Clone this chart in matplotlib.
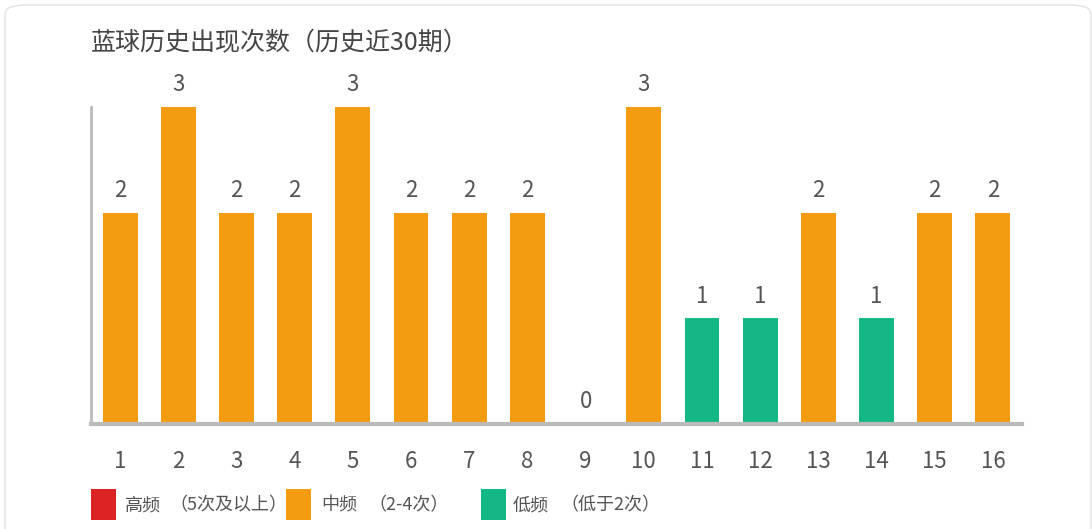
import matplotlib
matplotlib.use("Agg")
import matplotlib.pyplot as plt
from matplotlib.patches import FancyBboxPatch, Rectangle

plt.rcParams['font.family'] = ['Noto Sans CJK SC', 'DejaVu Sans']

# data
balls = [str(i) for i in range(1, 17)]
counts = [2, 3, 2, 2, 3, 2, 2, 2, 0, 3, 1, 1, 2, 1, 2, 2]
title = "蓝球历史出现次数（历史近30期）"
legend_names = ["高频", "中频", "低频"]
legend_notes = ["（5次及以上）", "（2-4次）", "（低于2次）"]

RED = "#DD2424"
ORANGE = "#F39C12"
GREEN = "#14B886"
legend_colors = [RED, ORANGE, GREEN]
TXT = "#555555"

def bar_color(v):
    if v >= 5:
        return RED
    elif v >= 2:
        return ORANGE
    return GREEN

W, H = 1092, 529
fig = plt.figure(figsize=(W / 100, H / 100), dpi=100)

# card border
fig.add_artist(FancyBboxPatch((5 / W, -0.05), 1086 / W, 1.05 - 5 / H,
                              boxstyle="round,pad=0,rounding_size=0.018",
                              transform=fig.transFigure, fc="white",
                              ec="#e6e6e6", lw=1.2, zorder=0))

ax = fig.add_axes([91 / W, 1 - 424 / H, 931 / W, 317 / H])
xs = list(range(1, len(balls) + 1))
ax.bar(xs, counts, width=0.6, color=[bar_color(v) for v in counts], zorder=2)
for x, v in zip(xs, counts):
    ax.text(x, v + 0.1, str(v), ha="center", va="bottom", fontsize=16, color=TXT)

ax.set_xlim(0.5, 16.5)
ax.set_ylim(0, 3)
ax.set_xticks(xs)
ax.set_xticklabels(balls, fontsize=16, color=TXT)
ax.set_yticks([])
ax.tick_params(axis="x", length=0, pad=19)
ax.spines["top"].set_visible(False)
ax.spines["right"].set_visible(False)
ax.spines["left"].set_color("#bbbbbb")
ax.spines["left"].set_linewidth(2)
ax.spines["bottom"].set_color("#bbbbbb")
ax.spines["bottom"].set_linewidth(3)
ax.patch.set_alpha(0)

fig.text(91 / W, 1 - 43 / H, title, fontsize=18, color="#444444", va="center", ha="left")

# legend
sq_x = [91, 286, 481]
name_x = [125, 321, 513]
note_x = [169, 368, 560]
for c, n, t, sx, nx, tx in zip(legend_colors, legend_names, legend_notes, sq_x, name_x, note_x):
    fig.add_artist(Rectangle((sx / W, 1 - 520 / H), 25 / W, 31 / H,
                             transform=fig.transFigure, fc=c, ec="none"))
    fig.text(nx / W, 1 - 505 / H, n, fontsize=13, color=TXT, va="center")
    fig.text(tx / W, 1 - 505 / H, t, fontsize=13, color=TXT, va="center")

fig.savefig("out.png", dpi=100)
